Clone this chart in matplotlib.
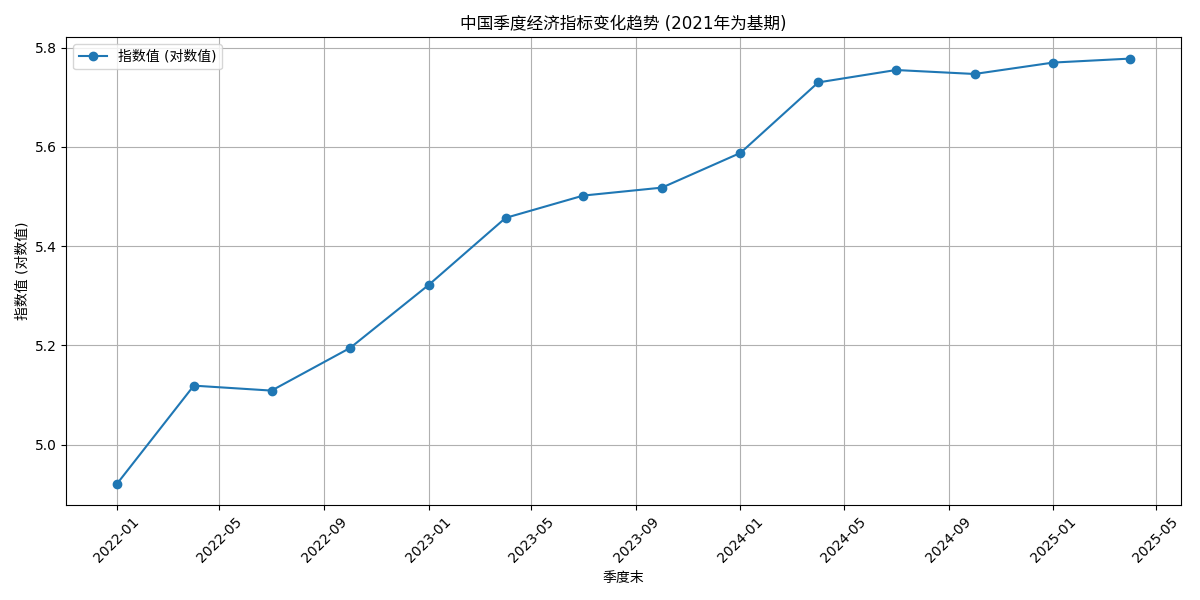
import pandas as pd
import matplotlib.pyplot as plt

# DejaVu for latin text and digits, CJK family for the Chinese glyphs
plt.rcParams['font.family'] = ['DejaVu Sans', 'Noto Sans CJK SC']

dates = ["2022-01-01", "2022-04-01", "2022-07-01", "2022-10-01",
         "2023-01-01", "2023-04-01", "2023-07-01", "2023-10-01",
         "2024-01-01", "2024-04-01", "2024-07-01", "2024-10-01",
         "2025-01-01", "2025-04-01"]
values = [4.921, 5.119, 5.109, 5.195,
          5.322, 5.457, 5.502, 5.518,
          5.588, 5.730, 5.755, 5.747,
          5.770, 5.778]

series_label = "指数值 (对数值)"
title = "中国季度经济指标变化趋势 (2021年为基期)"
xlabel = "季度末"

df = pd.DataFrame({"date": pd.to_datetime(dates), "value": values})
df.set_index("date", inplace=True)

fig, ax = plt.subplots(figsize=(12, 6), dpi=100)
ax.plot(df.index, df["value"], marker="o", label=series_label)

ax.set_title(title)
ax.set_xlabel(xlabel)
ax.set_ylabel(series_label)
ax.grid(True)
ax.legend(loc="upper left")
plt.xticks(rotation=45)

plt.tight_layout()
plt.savefig("out.png", format="png")
